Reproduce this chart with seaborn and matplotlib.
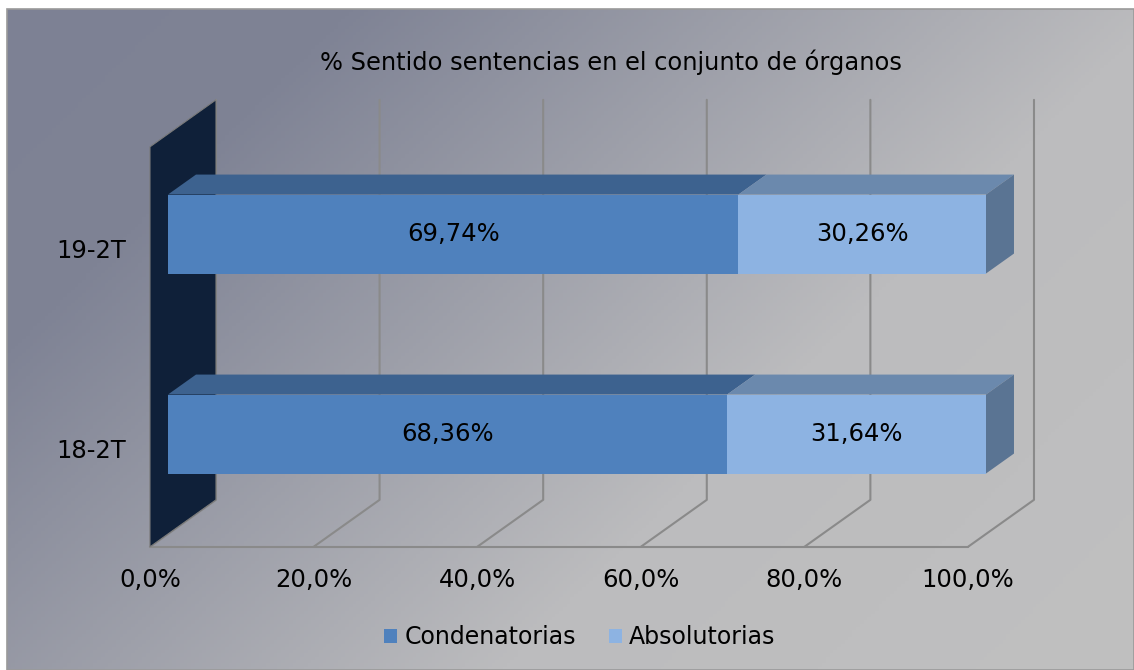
import numpy as np
import pandas as pd
import matplotlib
matplotlib.use("Agg")
import matplotlib.pyplot as plt
import seaborn as sns
from matplotlib.patches import Polygon, Patch
from matplotlib.transforms import IdentityTransform

# --- data -------------------------------------------------------------
periodos = ["19-2T", "18-2T"]
condenatorias = [69.74, 68.36]
absolutorias = [30.26, 31.64]
x_ticks = [0, 20, 40, 60, 80, 100]
x_tick_labels = ["0,0%", "20,0%", "40,0%", "60,0%", "80,0%", "100,0%"]
titulo = "% Sentido sentencias en el conjunto de órganos"
series = ["Condenatorias", "Absolutorias"]

# --- style --------------------------------------------------------------
COL_FRONT = {"Condenatorias": "#4f81bd", "Absolutorias": "#8db3e2"}
COL_TOP = {"Condenatorias": "#3d628f", "Absolutorias": "#6b89ad"}
COL_SIDE = "#5a7493"
WALL = "#0f2039"
GRID = "#8a8a8a"

W, H, DPI = 1134, 670, 100
DX, DY = 66.0, 47.0          # pixel shift for one unit of depth
D_FRONT, D_BACK, D_BAR = -0.273, 0.727, 0.424

sns.set_theme(style="white")
plt.rcParams["font.family"] = ["DejaVu Sans"]
plt.rcParams["text.color"] = "black"

fig = plt.figure(figsize=(W / DPI, H / DPI), dpi=DPI, facecolor="white")

# gradient background
bg = fig.add_axes([7 / W, 0, 1 - 7 / W, 1 - 9 / H], zorder=-10)
gx, gy = np.meshgrid(np.linspace(7, W, 300), np.linspace(9, H, 200))
t = (gx + gy) / (W + H)
stops = [0.0, 0.2, 0.65, 1.0]
rgb = np.array([[125, 129, 148], [127, 131, 149], [188, 188, 190], [192, 192, 192]]) / 255
img = np.dstack([np.interp(t, stops, rgb[:, k]) for k in range(3)])
bg.imshow(img, aspect="auto", extent=[0, 1, 0, 1], origin="upper")
bg.axis("off")
bg.add_patch(plt.Rectangle((0, 0), 1, 1, fill=False, ec="#9a9a9a", lw=1.2,
                           transform=bg.transAxes, clip_on=False))

# main axes = front plane of the bars
ax = fig.add_axes([168 / W, (H - 534) / H, 818 / W, 400 / H], zorder=0)
ax.patch.set_alpha(0)

df = pd.DataFrame({"periodo": periodos, "cond": condenatorias, "abs": absolutorias})
df["total"] = df["cond"] + df["abs"]
sns.barplot(data=df, x="total", y="periodo", order=periodos, color=COL_FRONT["Absolutorias"],
            saturation=1, width=0.395, edgecolor="none", ax=ax, zorder=3)
sns.barplot(data=df, x="cond", y="periodo", order=periodos, color=COL_FRONT["Condenatorias"],
            saturation=1, width=0.395, edgecolor="none", ax=ax, zorder=3)
ax.set_xlim(0, 100)
ax.set_ylim(1.5, -0.5)
ax.set_xticks([])
ax.set_yticks([])
ax.set_xlabel("")
ax.set_ylabel("")
for s in ax.spines.values():
    s.set_visible(False)


def proj(x, y, d):
    px, py = ax.transData.transform((x, y))
    return (px + d * DX, py + d * DY)


def poly(pts, **kw):
    ax.add_patch(Polygon([proj(*p) for p in pts], closed=True, transform=IdentityTransform(),
                         clip_on=False, **kw))


def line(pts, **kw):
    xy = np.array([proj(*p) for p in pts])
    ax.plot(xy[:, 0], xy[:, 1], transform=IdentityTransform(), clip_on=False, **kw)


y_top, y_floor = -0.5, 1.5

# back wall grid and floor lines
for xv in x_ticks:
    line([(xv, y_floor, D_FRONT), (xv, y_floor, D_BACK), (xv, y_top, D_BACK)],
         color=GRID, lw=1.5, zorder=0.5)
line([(0, y_floor, D_FRONT), (100, y_floor, D_FRONT)], color=GRID, lw=1.5, zorder=0.5)

# left side wall
poly([(0, y_top, D_FRONT), (0, y_top, D_BACK), (0, y_floor, D_BACK), (0, y_floor, D_FRONT)],
     fc=WALL, ec="#7a7a7a", lw=0.8, zorder=1)

# 3D faces of the bars
half = 0.395 / 2
for i, p in enumerate(periodos):
    top = i - half
    bot = i + half
    segs = [("Condenatorias", 0, condenatorias[i]),
            ("Absolutorias", condenatorias[i], condenatorias[i] + absolutorias[i])]
    for name, x0, x1 in segs:
        poly([(x0, top, 0), (x1, top, 0), (x1, top, D_BAR), (x0, top, D_BAR)],
             fc=COL_TOP[name], ec="none", zorder=2.5)
        ax.text((x0 + x1) / 2, i, f"{x1 - x0:.2f}%".replace(".", ","), ha="center", va="center",
                fontsize=17.5, color="black", zorder=5)
    xe = condenatorias[i] + absolutorias[i]
    poly([(xe, top, 0), (xe, bot, 0), (xe, bot, D_BAR), (xe, top, D_BAR)],
         fc=COL_SIDE, ec="none", zorder=2.5)

    # category label on the front plane
    lx, ly = proj(0, i, D_FRONT)
    fig.text((lx - 24) / W, (ly - 4) / H, p, ha="right", va="center", fontsize=17.5)

# x tick labels on the front plane
for xv, lab in zip(x_ticks, x_tick_labels):
    lx, ly = proj(xv, y_floor, D_FRONT)
    fig.text(lx / W, (ly - 21) / H, lab, ha="center", va="top", fontsize=17.5)

fig.text(611 / W, 1 - 62 / H, titulo, ha="center", va="center", fontsize=17.4)

handles = [Patch(fc=COL_FRONT[s], ec="none", label=s) for s in series]
fig.legend(handles=handles, loc="center", bbox_to_anchor=(580 / W, 1 - 637 / H), ncol=2,
           frameon=False, fontsize=17, handlelength=0.55, handleheight=0.55,
           handletextpad=0.3, columnspacing=1.4)

fig.savefig("out.png", dpi=DPI, facecolor=fig.get_facecolor())
